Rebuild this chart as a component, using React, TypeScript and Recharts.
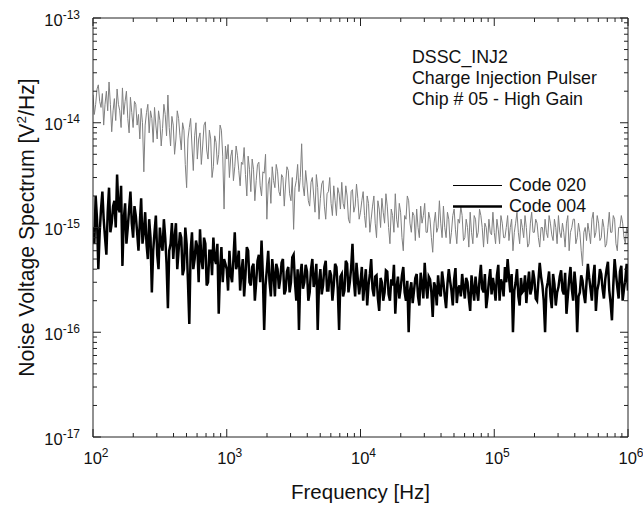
import React from 'react';
import { LineChart, Line, XAxis, YAxis, Legend } from 'recharts';

// values in units of 1e-16 V^2/Hz
const UNIT = 1e-16;

const freqs = [
  100, 102.3, 104.7, 107.2, 109.6, 112.2, 114.8, 117.5, 120.2, 123,
  125.9, 128.8, 131.8, 134.9, 138, 141.3, 144.5, 147.9, 151.4, 154.9,
  158.5, 162.2, 166, 169.8, 173.8, 177.8, 182, 186.2, 190.5, 195,
  199.5, 204.2, 208.9, 213.8, 218.8, 223.9, 229.1, 234.4, 239.9, 245.5,
  251.2, 257, 263, 269.2, 275.4, 281.8, 288.4, 295.1, 302, 309,
  316.2, 323.6, 331.1, 338.8, 346.7, 354.8, 363.1, 371.5, 380.2, 389,
  398.1, 407.4, 416.9, 426.6, 436.5, 446.7, 457.1, 467.7, 478.6, 489.8,
  501.2, 512.9, 524.8, 537, 549.5, 562.3, 575.4, 588.8, 602.6, 616.6,
  631, 645.7, 660.7, 676.1, 691.8, 707.9, 724.4, 741.3, 758.6, 776.2,
  794.3, 812.8, 831.8, 851.1, 871, 891.3, 912, 933.3, 955, 977.2,
  1000, 1023, 1047, 1072, 1096, 1122, 1148, 1175, 1202, 1230,
  1259, 1288, 1318, 1349, 1380, 1413, 1445, 1479, 1514, 1549,
  1585, 1622, 1660, 1698, 1738, 1778, 1820, 1862, 1905, 1950,
  1995, 2042, 2089, 2138, 2188, 2239, 2291, 2344, 2399, 2455,
  2512, 2570, 2630, 2692, 2754, 2818, 2884, 2951, 3020, 3090,
  3162, 3236, 3311, 3388, 3467, 3548, 3631, 3715, 3802, 3890,
  3981, 4074, 4169, 4266, 4365, 4467, 4571, 4677, 4786, 4898,
  5012, 5129, 5248, 5370, 5495, 5623, 5754, 5888, 6026, 6166,
  6310, 6457, 6607, 6761, 6918, 7079, 7244, 7413, 7586, 7762,
  7943, 8128, 8318, 8511, 8710, 8913, 9120, 9333, 9550, 9772,
  10000, 10230, 10470, 10720, 10960, 11220, 11480, 11750, 12020, 12300,
  12590, 12880, 13180, 13490, 13800, 14130, 14450, 14790, 15140, 15490,
  15850, 16220, 16600, 16980, 17380, 17780, 18200, 18620, 19050, 19500,
  19950, 20420, 20890, 21380, 21880, 22390, 22910, 23440, 23990, 24550,
  25120, 25700, 26300, 26920, 27540, 28180, 28840, 29510, 30200, 30900,
  31620, 32360, 33110, 33880, 34670, 35480, 36310, 37150, 38020, 38900,
  39810, 40740, 41690, 42660, 43650, 44670, 45710, 46770, 47860, 48980,
  50120, 51290, 52480, 53700, 54950, 56230, 57540, 58880, 60260, 61660,
  63100, 64570, 66070, 67610, 69180, 70790, 72440, 74130, 75860, 77620,
  79430, 81280, 83180, 85110, 87100, 89130, 91200, 93330, 95500, 97720,
  100000, 102300, 104700, 107200, 109600, 112200, 114800, 117500, 120200, 123000,
  125900, 128800, 131800, 134900, 138000, 141300, 144500, 147900, 151400, 154900,
  158500, 162200, 166000, 169800, 173800, 177800, 182000, 186200, 190500, 195000,
  199500, 204200, 208900, 213800, 218800, 223900, 229100, 234400, 239900, 245500,
  251200, 257000, 263000, 269200, 275400, 281800, 288400, 295100, 302000, 309000,
  316200, 323600, 331100, 338800, 346700, 354800, 363100, 371500, 380200, 389000,
  398100, 407400, 416900, 426600, 436500, 446700, 457100, 467700, 478600, 489800,
  501200, 512900, 524800, 537000, 549500, 562300, 575400, 588800, 602600, 616600,
  631000, 645700, 660700, 676100, 691800, 707900, 724400, 741300, 758600, 776200,
  794300, 812800, 831800, 851100, 871000, 891300, 912000, 933300, 955000, 977200,
  1000000,
];

const code020 = [
  185, 120, 150, 210, 230, 160, 140, 190, 95, 150, 200, 130, 245, 150, 82, 130, 170, 105, 210, 150,
  130, 90, 215, 120, 160, 200, 110, 80, 175, 125, 90, 160, 150, 95, 120, 70, 137, 100, 34, 95,
  125, 150, 80, 130, 110, 65, 140, 95, 70, 130, 105, 60, 88, 150, 120, 75, 184, 90, 60, 115,
  95, 50, 70, 130, 110, 75, 55, 100, 85, 40, 24, 70, 90, 110, 60, 35, 75, 100, 45, 70,
  80, 40, 60, 95, 102, 55, 45, 85, 70, 30, 38, 75, 65, 40, 50, 95, 85, 48, 15, 60,
  45, 62, 30, 48, 55, 28, 38, 60, 49, 35, 25, 42, 40, 58, 32, 20, 48, 36, 22, 45,
  36, 18, 28, 40, 42, 25, 20, 34, 33, 50, 12, 26, 30, 17, 38, 28, 24, 40, 34, 22,
  20, 32, 30, 16, 26, 38, 35, 21, 18, 30, 9.6, 24, 28, 40, 22, 30, 63, 25, 20, 35,
  26, 18, 16, 27, 30, 20, 14, 32, 24, 12, 19, 26, 28, 16, 12, 21, 22, 30, 17, 13,
  25, 18, 13, 24, 21, 15, 27, 17, 15, 25, 20, 12, 11, 22, 23, 14, 16, 26, 19, 12,
  14, 18, 22, 13, 10, 20, 17, 9, 12, 16, 20, 11, 8, 18, 15, 10, 19, 14, 11, 21,
  16, 10, 7, 15, 13, 9, 21, 12, 10, 17, 14, 8, 6, 13, 12, 20, 18, 11, 9, 14,
  13, 7.5, 15, 10, 8, 16, 11, 13, 17, 9, 9, 14, 12, 8, 5.8, 11, 14, 9, 10, 18,
  11, 8, 16, 10, 8, 14, 12, 7, 9, 13, 15, 9.5, 7, 12, 11, 16, 13, 7.5, 8, 12,
  10, 6.5, 14, 9, 7, 13, 12, 8, 9, 15, 13, 10, 6.5, 11, 10, 7, 12, 9, 8.5, 14,
  9, 7, 12, 9.5, 7, 13, 11, 8, 8, 10, 13, 7.5, 10, 12, 6, 9, 11, 14, 9, 7,
  12, 10, 8, 13, 10, 6.5, 7, 11, 14, 9, 9, 12, 11, 8, 6.5, 10, 10, 7.5, 12, 9,
  8, 13, 11, 8.5, 7.5, 12, 10, 7, 13, 9, 8, 11, 9, 6.5, 11, 13, 6, 9, 10, 12,
  12, 7, 8, 11, 9, 6, 4.3, 9, 10, 7.5, 11, 9, 7, 12, 14, 8, 9, 13, 11, 7.5,
  8, 12, 10, 6.5, 7, 10, 14, 9, 9, 13, 12, 7, 6, 10, 10, 13, 11, 8, 7, 10,
  9,
];

const code004 = [
  10, 7, 20, 12, 4, 9, 15, 22, 12, 8, 5.5, 14, 24, 9, 11, 16, 18, 10, 32, 15,
  14, 25, 4.3, 12, 17, 7, 10, 15, 22, 11, 8, 16, 13, 9, 6, 11, 19, 7, 9, 14,
  7, 5, 12, 8, 2.4, 6, 9, 13, 5.5, 4, 10, 7, 6, 12, 8, 4.5, 1.7, 6, 7, 11,
  5, 8, 11, 4, 6, 9, 8, 3.5, 4, 10, 7, 3, 1.2, 6, 9, 4, 5, 7.5, 6.5, 3,
  9.6, 5, 4, 8, 7, 2.8, 3, 6, 6, 3.5, 8, 5, 4.5, 7, 1.5, 4, 6.5, 3, 5, 4.5,
  4, 2.5, 6, 3.5, 3, 5, 9, 4, 4.5, 6, 2.5, 3.8, 5, 2.2, 3.5, 6.5, 6, 3, 2.8, 4.2,
  4.5, 2, 3, 4.8, 5.5, 3, 7.5, 3.5, 1.05, 2.8, 4, 6, 3, 2.2, 5, 3.6, 2.2, 4.5, 4, 2.6,
  3.2, 4.6, 5, 2.3, 2.5, 3.8, 4.2, 2.4, 3, 5.2, 5.5, 3, 2, 4, 1.05, 3.5, 4.5, 2.6, 3, 4.4,
  3.8, 2, 2.4, 4, 5, 2.7, 3.2, 4.5, 1.05, 3, 4, 2.3, 2.8, 4.2, 4.8, 2.5, 2.5, 3.9, 3.5, 2,
  2.8, 4.5, 4.2, 2.6, 1.05, 3.4, 3.6, 2.2, 2.5, 4.8, 4.5, 2.4, 3, 4.1, 7, 3.2, 2.2, 4.6, 3.2, 2.3,
  3, 4.2, 2, 2.9, 4, 1.8, 2.8, 3.6, 5, 2.6, 2.2, 3.4, 3.5, 2.1, 1.6, 3.3, 3, 2, 2.4, 3.9,
  3.8, 2.3, 2, 3.2, 2.8, 4.4, 1.5, 2.7, 3.4, 2.1, 2.6, 3.5, 4.2, 2.4, 2, 3.1, 1.0, 2.5, 3, 1.9,
  2.5, 3.3, 3.6, 2.2, 1.8, 3.7, 2.9, 2.1, 4.6, 2.8, 2.1, 3.4, 3.2, 2.4, 1.4, 3, 2.7, 1.8, 3.5, 2.4,
  2.2, 3.8, 3, 2.2, 1.7, 2.9, 4, 3.1, 2.5, 1.8, 3.2, 4.1, 1.9, 2.6, 2.8, 2.2, 3.6, 2.7, 2.1, 3.3,
  3, 2.1, 1.6, 3.5, 2.6, 2, 3.4, 2.5, 2, 3.2, 4.4, 2.6, 2.4, 3.6, 1.7, 2.2, 3.1, 4, 2.3, 3.3,
  2.7, 2, 3.5, 4.4, 2, 3.2, 2.9, 2.2, 4.2, 3, 5, 3.4, 2.4, 3.6, 1.0, 2.5, 3, 4, 2.2, 1.8,
  3.3, 2.4, 2.5, 3.5, 1.9, 2.8, 3.8, 2.3, 2.6, 3.9, 3.2, 2.1, 2, 3.1, 4.6, 3.4, 2.8, 2, 1.0, 2.6,
  3, 3.8, 2.2, 1.7, 3.6, 2.9, 1.8, 2.4, 2.7, 3.4, 3.9, 2.5, 2.3, 3.7, 1.5, 2.2, 3.2, 4.2, 2.6, 2,
  3.8, 2.7, 1.0, 2.2, 2.4, 3.5, 3.1, 2.3, 1.9, 3, 4.5, 3.3, 2.6, 2, 3.4, 4.4, 1.6, 2.5, 2.9, 4,
  3.6, 2.6, 2.1, 3.2, 4, 4.7, 2.5, 1.9, 1.3, 2.8, 5, 3.6, 2.7, 2.1, 3.8, 4.3, 2, 2.6, 3.2, 4.5,
  2.5,
];

const xTicks = [
  100, 200, 300, 400, 500, 600, 700, 800, 900,
  1000, 2000, 3000, 4000, 5000, 6000, 7000, 8000, 9000,
  10000, 20000, 30000, 40000, 50000, 60000, 70000, 80000, 90000,
  100000, 200000, 300000, 400000, 500000, 600000, 700000, 800000, 900000,
  1000000,
];

const yTicks = [
  1e-17, 2e-17, 3e-17, 4e-17, 5e-17, 6e-17, 7e-17, 8e-17, 9e-17,
  1e-16, 2e-16, 3e-16, 4e-16, 5e-16, 6e-16, 7e-16, 8e-16, 9e-16,
  1e-15, 2e-15, 3e-15, 4e-15, 5e-15, 6e-15, 7e-15, 8e-15, 9e-15,
  1e-14, 2e-14, 3e-14, 4e-14, 5e-14, 6e-14, 7e-14, 8e-14, 9e-14,
  1e-13,
];

const seriesNames = ['Code 020', 'Code 004'];
const noteLines = ['DSSC_INJ2', 'Charge Injection Pulser', 'Chip # 05 - High Gain'];
const xTitle = 'Frequency [Hz]';
const yTitleParts = ['Noise Voltage Spectrum [V', '2', '/Hz]'];

const FONT = "'Liberation Sans', Arial, Helvetica, sans-serif";
const AXIS = '#222';
const GRAY = '#808080';

const rows = freqs.map((f, i) => ({ f, c020: code020[i] * UNIT, c004: code004[i] * UNIT }));

const isMajor = (v: number) => {
  const l = Math.log10(v);
  return Math.abs(l - Math.round(l)) < 1e-6;
};
const expOf = (v: number) => String(Math.round(Math.log10(v)));

const XTick = (props: any) => {
  const { x, y, payload, side } = props;
  const v = payload.value;
  const major = isMajor(v);
  const len = major ? 8 : 4;
  const dir = side === 'bottom' ? -1 : 1;
  return (
    <g>
      <line x1={x} x2={x} y1={y} y2={y + dir * len} stroke={AXIS} strokeWidth={1} />
      {side === 'bottom' && major && (
        <text x={x - 9.5} y={y + 27} textAnchor="start" fontFamily={FONT} fontSize={16.5} fill="#111">
          10<tspan dy={-7} fontSize={12}>{expOf(v)}</tspan>
        </text>
      )}
    </g>
  );
};

const YTick = (props: any) => {
  const { x, y, payload, side } = props;
  const v = payload.value;
  const major = isMajor(v);
  const len = major ? 8 : 4;
  const dir = side === 'left' ? 1 : -1;
  return (
    <g>
      <line x1={x} x2={x + dir * len} y1={y} y2={y} stroke={AXIS} strokeWidth={1} />
      {side === 'left' && major && (
        <text x={x - 13} y={y + 7.5} textAnchor="end" fontFamily={FONT} fontSize={16.5} fill="#111">
          10<tspan dy={-7} fontSize={12}>{expOf(v)}</tspan>
        </text>
      )}
    </g>
  );
};

const XTitle = (props: any) => {
  const vb = props.viewBox || { x: 93, y: 437, width: 535, height: 50 };
  return (
    <text x={vb.x + vb.width / 2} y={vb.y + 62} textAnchor="middle" fontFamily={FONT} fontSize={20.5} fill="#111">
      {xTitle}
    </text>
  );
};

const YTitle = (props: any) => {
  const vb = props.viewBox || { x: 0, y: 18, width: 93, height: 419 };
  const cx = 34;
  const cy = vb.y + vb.height / 2;
  return (
    <text
      x={cx}
      y={cy}
      transform={`rotate(-90 ${cx} ${cy})`}
      textAnchor="middle"
      fontFamily={FONT}
      fontSize={21.2}
      fill="#111"
    >
      {yTitleParts[0]}
      <tspan dy={-8} fontSize={13.5}>{yTitleParts[1]}</tspan>
      <tspan dy={8}>{yTitleParts[2]}</tspan>
    </text>
  );
};

const LegendBox = () => (
  <div style={{ fontFamily: FONT, fontSize: 17.8, color: '#111' }}>
    {seriesNames.map((n, i) => (
      <div key={n} style={{ display: 'flex', alignItems: 'center', height: 21 }}>
        <svg width={56} height={21}>
          <line x1={0} x2={49} y1={10.5} y2={10.5} stroke="#000" strokeWidth={i === 0 ? 1 : 2.5} />
        </svg>
        <span style={{ lineHeight: '21px' }}>{n}</span>
      </div>
    ))}
  </div>
);

export default function App() {
  return (
    <div style={{ position: 'absolute', left: 0, top: 0, width: 643, height: 508, background: '#fff' }}>
      <LineChart width={643} height={508} data={rows} margin={{ top: 17, right: 14, bottom: 21, left: 0 }}>
        <XAxis
          xAxisId="b"
          dataKey="f"
          type="number"
          scale="log"
          domain={[100, 1000000]}
          ticks={xTicks}
          interval={0}
          allowDataOverflow
          height={50}
          tickSize={0}
          tickMargin={0}
          tickLine={false}
          axisLine={{ stroke: AXIS, strokeWidth: 1 }}
          tick={<XTick side="bottom" />}
          label={<XTitle />}
        />
        <XAxis
          xAxisId="t"
          orientation="top"
          dataKey="f"
          type="number"
          scale="log"
          domain={[100, 1000000]}
          ticks={xTicks}
          interval={0}
          allowDataOverflow
          height={1}
          tickSize={0}
          tickMargin={0}
          tickLine={false}
          axisLine={{ stroke: AXIS, strokeWidth: 1 }}
          tick={<XTick side="top" />}
        />
        <YAxis
          yAxisId="l"
          type="number"
          scale="log"
          domain={[1e-17, 1e-13]}
          ticks={yTicks}
          interval={0}
          allowDataOverflow
          width={93}
          tickSize={0}
          tickMargin={0}
          tickLine={false}
          axisLine={{ stroke: AXIS, strokeWidth: 1 }}
          tick={<YTick side="left" />}
          label={<YTitle />}
        />
        <YAxis
          yAxisId="r"
          orientation="right"
          type="number"
          scale="log"
          domain={[1e-17, 1e-13]}
          ticks={yTicks}
          interval={0}
          allowDataOverflow
          width={1}
          tickSize={0}
          tickMargin={0}
          tickLine={false}
          axisLine={{ stroke: AXIS, strokeWidth: 1 }}
          tick={<YTick side="right" />}
        />
        <Line
          xAxisId="b"
          yAxisId="l"
          dataKey="c020"
          name={seriesNames[0]}
          stroke={GRAY}
          strokeWidth={1}
          dot={false}
          activeDot={false}
          isAnimationActive={false}
        />
        <Line
          xAxisId="b"
          yAxisId="l"
          dataKey="c004"
          name={seriesNames[1]}
          stroke="#000"
          strokeWidth={2.5}
          strokeLinejoin="miter"
          dot={false}
          activeDot={false}
          isAnimationActive={false}
        />
        <Legend
          layout="horizontal"
          verticalAlign="middle"
          align="center"
          content={<LegendBox />}
          wrapperStyle={{ left: 453, top: 175, width: 160, height: 42 }}
        />
      </LineChart>
      <div
        style={{
          position: 'absolute',
          left: 412,
          top: 47,
          fontFamily: FONT,
          fontSize: 17.8,
          lineHeight: '21px',
          color: '#111',
          pointerEvents: 'none',
          whiteSpace: 'nowrap',
        }}
      >
        {noteLines.map((t) => (
          <div key={t}>{t}</div>
        ))}
      </div>
    </div>
  );
}
